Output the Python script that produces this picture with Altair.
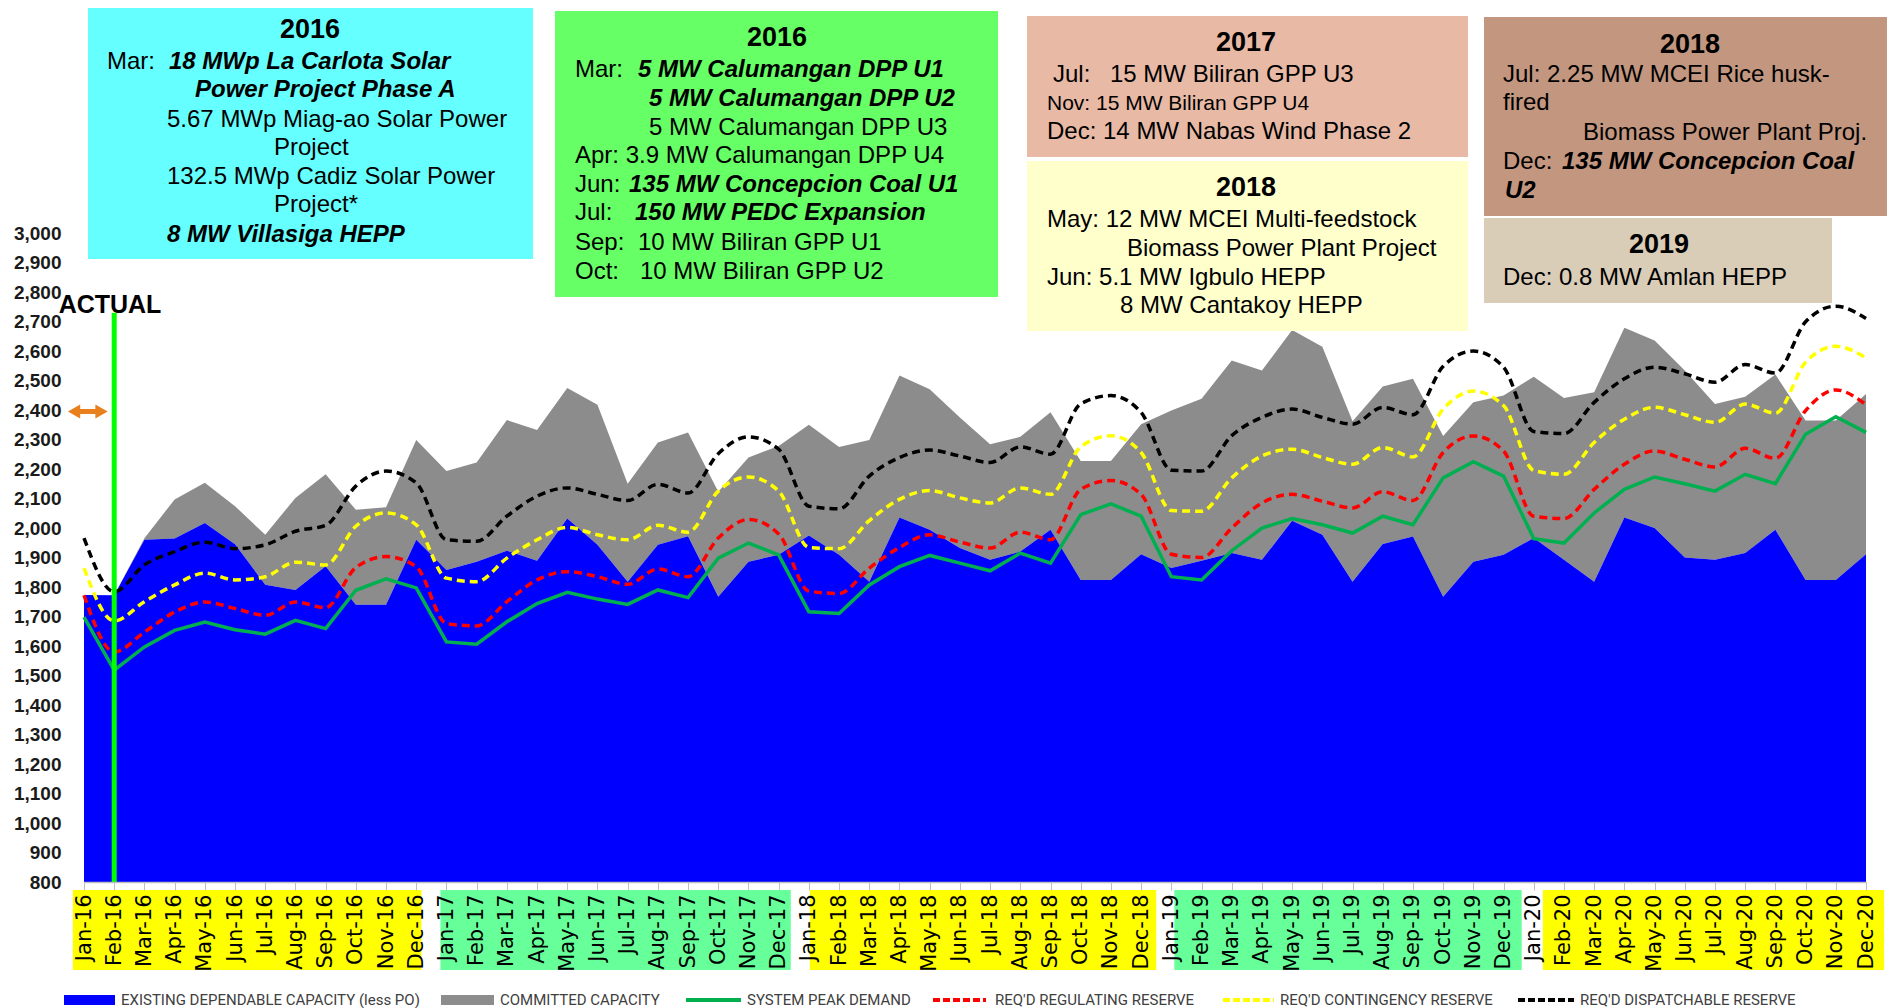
import altair as alt
import pandas as pd

# ---------------- data ----------------
month_abbr = ["Jan", "Feb", "Mar", "Apr", "May", "Jun", "Jul", "Aug", "Sep", "Oct", "Nov", "Dec"]
year_suffix = ["16", "17", "18", "19", "20"]
months = [f"{m}-{y}" for y in year_suffix for m in month_abbr]

existing_capacity = [
    1773, 1772, 1960, 1964, 2017, 1945, 1808, 1790, 1870, 1740, 1740, 1960,
    1858, 1886, 1923, 1889, 2032, 1943, 1818, 1943, 1972, 1767, 1886, 1909,
    1975, 1909, 1818, 2036, 1994, 1932, 1892, 1920, 1994, 1824, 1824, 1911,
    1864, 1889, 1915, 1892, 2025, 1977, 1818, 1946, 1971, 1767, 1886, 1909,
    1966, 1892, 1818, 2036, 2000, 1900, 1892, 1915, 1994, 1824, 1824, 1911,
]
existing_plus_committed = [
    1773, 1772, 1965, 2097, 2153, 2074, 1977, 2102, 2182, 2062, 2070, 2298,
    2193, 2222, 2366, 2332, 2475, 2418, 2150, 2290, 2324, 2123, 2239, 2278,
    2350, 2275, 2298, 2517, 2470, 2375, 2284, 2309, 2392, 2227, 2227, 2352,
    2398, 2438, 2568, 2534, 2671, 2614, 2362, 2480, 2506, 2312, 2426, 2449,
    2513, 2441, 2460, 2679, 2636, 2534, 2420, 2445, 2520, 2364, 2364, 2454,
]
system_peak_demand = [
    1698, 1518, 1597, 1653, 1681, 1655, 1640, 1687, 1659, 1789, 1828, 1797,
    1614, 1606, 1682, 1744, 1782, 1759, 1741, 1790, 1764, 1898, 1949, 1909,
    1716, 1710, 1807, 1869, 1907, 1881, 1855, 1915, 1881, 2045, 2082, 2040,
    1835, 1824, 1923, 2000, 2032, 2011, 1983, 2040, 2011, 2170, 2225, 2176,
    1964, 1949, 2051, 2131, 2173, 2150, 2125, 2182, 2150, 2318, 2377, 2324,
]
regulating_reserve = [
    1772, 1580, 1647, 1715, 1749, 1727, 1704, 1749, 1730, 1866, 1903, 1869,
    1676, 1668, 1750, 1824, 1852, 1835, 1809, 1861, 1835, 1966, 2029, 1980,
    1786, 1778, 1864, 1934, 1977, 1952, 1932, 1986, 1960, 2131, 2161, 2114,
    1911, 1900, 2000, 2085, 2114, 2091, 2068, 2123, 2093, 2256, 2312, 2261,
    2040, 2032, 2131, 2216, 2261, 2233, 2207, 2270, 2236, 2398, 2468, 2418,
]
contingency_reserve = [
    1864, 1685, 1750, 1807, 1847, 1824, 1835, 1884, 1875, 2006, 2051, 2011,
    1830, 1818, 1898, 1960, 2002, 1977, 1960, 2009, 1986, 2125, 2173, 2125,
    1934, 1930, 2025, 2097, 2127, 2102, 2085, 2136, 2114, 2275, 2313, 2256,
    2059, 2057, 2170, 2244, 2267, 2239, 2216, 2273, 2241, 2403, 2464, 2415,
    2195, 2182, 2290, 2369, 2409, 2384, 2358, 2420, 2389, 2562, 2616, 2577,
]
dispatchable_reserve = [
    1966, 1784, 1875, 1920, 1952, 1930, 1943, 1989, 2009, 2142, 2193, 2153,
    1960, 1955, 2040, 2108, 2136, 2114, 2093, 2148, 2119, 2252, 2309, 2267,
    2074, 2065, 2176, 2239, 2264, 2244, 2222, 2275, 2250, 2421, 2449, 2392,
    2196, 2193, 2313, 2375, 2403, 2375, 2352, 2409, 2384, 2548, 2600, 2545,
    2327, 2320, 2426, 2506, 2545, 2523, 2494, 2554, 2525, 2699, 2752, 2710,
]

y_ticks = list(range(800, 3001, 100))
actual_month = "Feb-16"
actual_marker_top = 2730
arrow_level = 2395

series_names = [
    "EXISTING DEPENDABLE CAPACITY (less PO)", "COMMITTED CAPACITY", "SYSTEM PEAK DEMAND",
    "REQ'D REGULATING RESERVE", "REQ'D CONTINGENCY RESERVE", "REQ'D DISPATCHABLE RESERVE",
]
series_colors = ["#0000FF", "#8C8C8C", "#00B050", "#FF0000", "#FFFF00", "#000000"]

# ---------------- layout (page pixels) ----------------
W, H = 1782, 649
OX, OY = 84, 233          # page position of the plot origin


def px(v):
    return v - OX


def py(v):
    return v - OY


df = pd.DataFrame({
    "idx": list(range(len(months))),
    "month": months,
    "existing": existing_capacity,
    "committed_top": existing_plus_committed,
    "peak": system_peak_demand,
    "reg": regulating_reserve,
    "cont": contingency_reserve,
    "disp": dispatchable_reserve,
})

n = len(months)
x_scale = alt.Scale(domain=[0, n - 1], nice=False, zero=False)
y_scale = alt.Scale(domain=[y_ticks[0], y_ticks[-1]], nice=False, zero=False)
label_expr = "[" + ",".join(f"'{m}'" for m in months) + "][datum.value]"
x_axis = alt.Axis(values=list(range(n)), labelExpr=label_expr, labelAngle=270,
                  labelFont="DejaVu Sans", labelFontSize=21, labelColor="#000000",
                  labelPadding=4, labelOverlap=False, labelFlush=False,
                  tickColor="#BFBFBF", tickSize=8, domainColor="#BFBFBF", domainWidth=1.5,
                  grid=False, title=None, zindex=1)
y_axis = alt.Axis(values=y_ticks, format=",.0f", labelFont="Liberation Sans", labelFontWeight="bold",
                  labelFontSize=19, labelColor="#1A1A1A", labelPadding=23,
                  domain=False, ticks=False, grid=False, title=None)

X = alt.X("idx:Q", scale=x_scale, axis=x_axis)


def Yq(field):
    return alt.Y(field, scale=y_scale, axis=y_axis)


base = alt.Chart(df)

# year highlight bands behind the month labels
bands = pd.DataFrame({
    "start": [-0.37, 11.8, 24.03, 36.1, 48.3],
    "end": [11.17, 23.4, 35.5, 47.6, 59.6],
    "fill": ["#FFFF00", "#66FF99", "#FFFF00", "#66FF99", "#FFFF00"],
})
band_layer = alt.Chart(bands).mark_rect().encode(
    x=alt.X("start:Q", scale=x_scale, axis=x_axis), x2="end:Q",
    y=alt.value(py(890)), y2=alt.value(py(970)),
    color=alt.Color("fill:N", scale=None),
)

existing_area = base.mark_area(color=series_colors[0]).encode(
    x=X, y=Yq("existing:Q"), y2=alt.datum(y_ticks[0]))
committed_area = base.mark_area(color=series_colors[1]).encode(
    x=X, y=Yq("committed_top:Q"), y2="existing:Q")


def dashed(field, color):
    return base.mark_line(color=color, strokeWidth=3.5, strokeDash=[8, 5],
                          interpolate="monotone").encode(x=X, y=Yq(field))


disp_line = dashed("disp:Q", series_colors[5])
cont_line = dashed("cont:Q", series_colors[4])
reg_line = dashed("reg:Q", series_colors[3])
peak_line = base.mark_line(color=series_colors[2], strokeWidth=3.5).encode(x=X, y=Yq("peak:Q"))

# "ACTUAL" marker
actual_df = pd.DataFrame({"idx": [months.index(actual_month)], "top": [actual_marker_top],
                          "bottom": [y_ticks[0]]})
actual_rule = alt.Chart(actual_df).mark_rule(color="#00FF00", strokeWidth=5).encode(
    x=X, y=Yq("top:Q"), y2="bottom:Q")
actual_text = alt.Chart(actual_df).mark_text(
    text="ACTUAL", font="Liberation Sans", fontWeight="bold", fontSize=25,
    align="center", baseline="middle", color="#000000").encode(
    x=alt.value(px(110)), y=alt.value(py(305)))

arrow_df = pd.DataFrame({"idx": [-0.33], "idx2": [0.58], "lvl": [arrow_level]})
arrow_shaft = alt.Chart(arrow_df).mark_rule(color="#E8801E", strokeWidth=5).encode(
    x=X, x2="idx2:Q", y=Yq("lvl:Q"))
arrow_left = alt.Chart(arrow_df).mark_point(shape="triangle-left", filled=True, size=200,
                                            color="#E8801E", opacity=1).encode(
    x=alt.X("idx:Q", scale=x_scale, axis=x_axis), y=Yq("lvl:Q"))
arrow_right = alt.Chart(arrow_df).mark_point(shape="triangle-right", filled=True, size=200,
                                             color="#E8801E", opacity=1).encode(
    x=alt.X("idx2:Q", scale=x_scale, axis=x_axis), y=Yq("lvl:Q"))

# ---------------- annotation boxes ----------------
boxes = pd.DataFrame({
    "x0": [px(v) for v in [88, 555, 1027, 1027, 1484, 1484]],
    "x1": [px(v) for v in [533, 998, 1468, 1468, 1895, 1832]],
    "y0": [py(v) for v in [3, 11, 16, 161, 17, 218]],
    "y1": [py(v) for v in [259, 297, 157, 331, 216, 303]],
    "fill": ["#66FFFF", "#66FF66", "#E8B9A4", "#FFFFCC", "#C3967F", "#DACDB8"],
})
box_layer = alt.Chart(boxes).mark_rect().encode(
    x=alt.X("x0:Q", scale=None, axis=None), x2="x1:Q",
    y=alt.Y("y0:Q", scale=None, axis=None), y2="y1:Q",
    color=alt.Color("fill:N", scale=None))

headers = [(310, 30, "2016"), (777, 38, "2016"), (1246, 43, "2017"),
           (1246, 188, "2018"), (1690, 45, "2018"), (1659, 245, "2019")]
normal_lines = [
    (107, 62, "Mar:", 24), (167, 120, "5.67 MWp Miag-ao Solar Power", 24),
    (274, 148, "Project", 24), (167, 177, "132.5 MWp Cadiz Solar Power", 24),
    (274, 205, "Project*", 24),
    (575, 70, "Mar:", 24), (649, 128, "5 MW Calumangan DPP U3", 24),
    (575, 156, "Apr: 3.9 MW Calumangan DPP U4", 24), (575, 185, "Jun:", 24),
    (575, 213, "Jul:", 24), (575, 243, "Sep:", 24), (638, 243, "10 MW Biliran GPP U1", 24),
    (575, 272, "Oct:", 24), (640, 272, "10 MW Biliran GPP U2", 24),
    (1053, 75, "Jul:", 24), (1110, 75, "15 MW Biliran GPP U3", 24),
    (1047, 104, "Nov: 15 MW Biliran GPP U4", 21), (1047, 132, "Dec: 14 MW Nabas Wind Phase 2", 24),
    (1047, 220, "May: 12 MW MCEI Multi-feedstock", 24),
    (1127, 249, "Biomass Power Plant Project", 24),
    (1047, 278, "Jun: 5.1 MW Igbulo HEPP", 24), (1120, 306, "8 MW Cantakoy HEPP", 24),
    (1503, 75, "Jul: 2.25 MW MCEI Rice husk-", 24), (1503, 103, "fired", 24),
    (1583, 133, "Biomass Power Plant Proj.", 24), (1503, 162, "Dec:", 24),
    (1503, 278, "Dec: 0.8 MW Amlan HEPP", 24),
]
bold_italic_lines = [
    (169, 62, "18 MWp La Carlota Solar", 24), (195, 90, "Power Project Phase A", 24),
    (167, 235, "8 MW Villasiga HEPP", 24),
    (638, 70, "5 MW Calumangan DPP U1", 24), (649, 99, "5 MW Calumangan DPP U2", 24),
    (629, 185, "135 MW Concepcion Coal U1", 24), (635, 213, "150 MW PEDC Expansion", 24),
    (1562, 162, "135 MW Concepcion Coal", 24), (1505, 191, "U2", 24),
]


def text_layer(items, align, weight, style, size=None):
    d = pd.DataFrame({
        "x": [px(t[0]) for t in items], "y": [py(t[1]) for t in items],
        "text": [t[2] for t in items],
        "size": [t[3] if len(t) > 3 else size for t in items],
    })
    return alt.Chart(d).mark_text(align=align, baseline="middle", font="Liberation Sans",
                                  fontWeight=weight, fontStyle=style, color="#000000").encode(
        x=alt.X("x:Q", scale=None, axis=None), y=alt.Y("y:Q", scale=None, axis=None),
        text="text:N", size=alt.Size("size:Q", scale=None, legend=None))


header_layer = text_layer(headers, "center", "bold", "normal", 27)
normal_layer = text_layer(normal_lines, "left", "normal", "normal")
bi_layer = text_layer(bold_italic_lines, "left", "bold", "italic")

# ---------------- legend (custom, bottom row) ----------------
LEG_Y = 1000
leg = pd.DataFrame({
    "label": series_names,
    "kind": ["swatch", "swatch", "solid", "dash", "dash", "dash"],
    "color": series_colors,
    "x0": [px(v) for v in [64, 441, 686, 933, 1223, 1518]],
    "x1": [px(v) for v in [115, 494, 741, 986, 1274, 1574]],
    "tx": [px(v) for v in [121, 500, 747, 995, 1280, 1580]],
})
leg["y"] = py(LEG_Y)
leg["y0"] = py(LEG_Y - 5)
leg["y1"] = py(LEG_Y + 5)

leg_swatch = alt.Chart(leg[leg.kind == "swatch"]).mark_rect().encode(
    x=alt.X("x0:Q", scale=None, axis=None), x2="x1:Q",
    y=alt.Y("y0:Q", scale=None, axis=None), y2="y1:Q",
    color=alt.Color("color:N", scale=None))
leg_solid = alt.Chart(leg[leg.kind == "solid"]).mark_rule(strokeWidth=4).encode(
    x=alt.X("x0:Q", scale=None, axis=None), x2="x1:Q",
    y=alt.Y("y:Q", scale=None, axis=None), color=alt.Color("color:N", scale=None))
leg_dash = alt.Chart(leg[leg.kind == "dash"]).mark_rule(strokeWidth=4, strokeDash=[7, 3]).encode(
    x=alt.X("x0:Q", scale=None, axis=None), x2="x1:Q",
    y=alt.Y("y:Q", scale=None, axis=None), color=alt.Color("color:N", scale=None))
leg_text = alt.Chart(leg).mark_text(align="left", baseline="middle",
                                    font="Liberation Sans Narrow, Roboto", fontSize=15,
                                    color="#404040").encode(
    x=alt.X("tx:Q", scale=None, axis=None), y=alt.Y("y:Q", scale=None, axis=None),
    text="label:N")

chart = alt.layer(
    band_layer, committed_area, existing_area, disp_line, cont_line, reg_line, peak_line,
    actual_rule, actual_text, arrow_shaft, arrow_left, arrow_right,
    box_layer, header_layer, normal_layer, bi_layer,
    leg_swatch, leg_solid, leg_dash, leg_text,
).properties(
    width=W, height=H,
    autosize=alt.AutoSizeParams(type="none"),
    padding={"left": OX - 8, "top": OY - 8, "right": 21, "bottom": 1000 - (OY - 8) - H},
).configure_view(stroke=None)

chart.save("out.html", embed_options={"renderer": "svg", "actions": False})
